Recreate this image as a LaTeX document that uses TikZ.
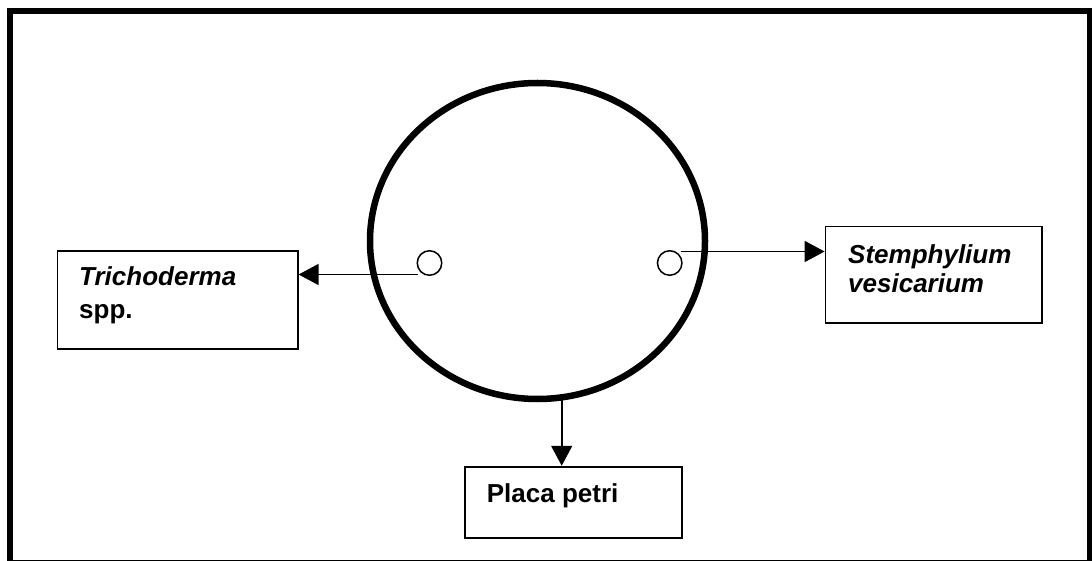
\documentclass[tikz,border=0pt]{standalone}
\usepackage{fontspec}
\setmainfont{Liberation Sans}
\usetikzlibrary{arrows.meta,shapes.geometric}
\begin{document}
\begin{tikzpicture}[x=1pt,y=-1pt,
  frame/.style={line width=6pt},
  dish/.style={line width=6.5pt},
  hole/.style={draw,circle,line width=1.5pt,inner sep=0pt,minimum size=24.5pt},
  labelbox/.style={draw,rectangle,line width=1.8pt,inner sep=0pt},
  arr/.style={line width=1.6pt,-{Triangle[length=20pt,width=21pt]}},
  txt/.style={anchor=base west,inner sep=0pt,font=\fontsize{26}{32}\selectfont\bfseries}
]
\useasboundingbox (0,0) rectangle (1092,561);
% outer frame
\draw[frame] (9.9,565) -- (9.9,11) -- (1089.7,11) -- (1089.7,565);
\draw[line width=1.2pt] (7,560.2) -- (1092,560.2);
% petri dish
\node[draw,ellipse,dish,minimum width=335pt,minimum height=316pt,inner sep=0pt] (plate) at (537.5,241) {};
% holes
\node[hole] (h1) at (429.5,263) {};
\node[hole] (h2) at (669.7,263) {};
% boxes
\node[labelbox,minimum width=240.2pt,minimum height=98pt] (tricho) at (177.6,300) {};
\node[labelbox,minimum width=216.2pt,minimum height=96.2pt] (stemp) at (933.6,274.6) {};
\node[labelbox,minimum width=217pt,minimum height=71.3pt] (placa) at (573.5,502.3) {};
% texts
\node[txt] (t1) at (79,286) {\itshape Trichoderma};
\node[txt] (t2) at (79,318) {spp.};
\node[txt] (t3) at (848,263.3) {\itshape Stemphylium};
\node[txt] (t4) at (848,292.7) {\itshape vesicarium};
\node[txt] (t5) at (486.7,502) {Placa petri};
% connectors
\coordinate (s1) at (418,274.5);
\coordinate (s2) at (680.7,251.5);
\coordinate (s3) at (561.7,396);
\draw[arr] (s1) -- (s1 -| tricho.east);
\draw[arr] (s2) -- (s2 -| stemp.west);
\draw[arr] (s3) -- (s3 |- placa.north);
\end{tikzpicture}
\end{document}
